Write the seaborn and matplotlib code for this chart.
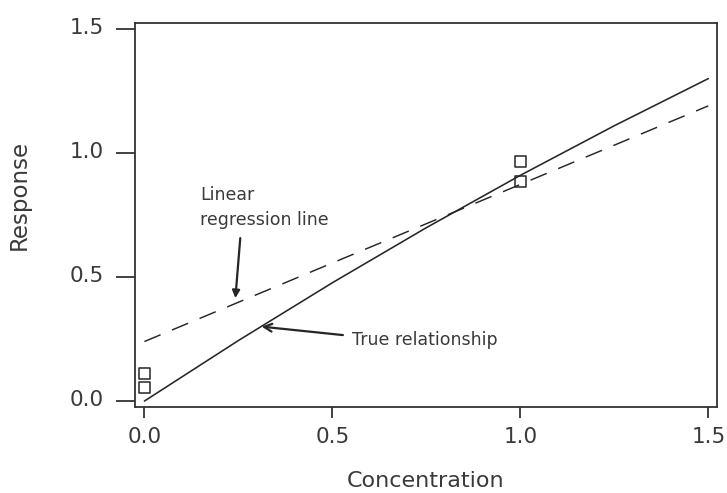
import numpy as np
import pandas as pd
import matplotlib
matplotlib.use("Agg")
import matplotlib.pyplot as plt
from matplotlib.transforms import ScaledTranslation
import seaborn as sns

# Observed responses (duplicate standards at two concentrations)
obs_conc = [0.0, 0.0, 1.0, 1.0]
obs_resp = [0.11, 0.055, 0.965, 0.885]

# True (slightly curved) concentration-response relationship
true_conc = [0.0, 0.25, 0.5, 0.75, 1.0, 1.25, 1.5]
true_resp = [0.0, 0.244, 0.477, 0.699, 0.91, 1.11, 1.30]

# Fitted straight line
fit_conc = [0.0, 1.5]
fit_resp = [0.24, 1.19]

tick_vals = [0.0, 0.5, 1.0, 1.5]
tick_labels = ["0.0", "0.5", "1.0", "1.5"]

sns.set_style("white")
plt.rcParams["font.family"] = ["DejaVu Sans"]

ink = "#262626"
txt = "#3a3a3a"

fig = plt.figure(figsize=(7.27, 4.93), dpi=100)
ax = fig.add_axes([0.1857, 0.1744, 0.8005, 0.7789])

obs = pd.DataFrame({"Concentration": obs_conc, "Response": obs_resp})
true = pd.DataFrame({"Concentration": true_conc, "Response": true_resp})
fit = pd.DataFrame({"Concentration": fit_conc, "Response": fit_resp})

sns.lineplot(data=true, x="Concentration", y="Response", ax=ax,
             color=ink, lw=1.15, sort=False)
sns.lineplot(data=fit, x="Concentration", y="Response", ax=ax,
             color=ink, lw=1.05, linestyle=(0, (12, 8.5)), sort=False)
sns.scatterplot(data=obs, x="Concentration", y="Response", ax=ax,
                marker="s", s=64, facecolor="none", edgecolor=ink,
                linewidth=1.1, zorder=5)

ax.set_xlim(-0.025, 1.523)
ax.set_ylim(-0.024, 1.524)
ax.set_xticks(tick_vals)
ax.set_xticklabels(tick_labels)
ax.set_yticks(tick_vals)
ax.set_yticklabels(tick_labels)

for sp in ax.spines.values():
    sp.set_visible(True)
    sp.set_color("#333333")
    sp.set_linewidth(1.3)

ax.tick_params(axis="x", bottom=True, direction="out", length=8, width=1.3,
               color="#333333", labelsize=15.5, labelcolor=txt, pad=6.5)
ax.tick_params(axis="y", left=True, direction="out", length=13.7, width=1.3,
               color="#333333", labelsize=15.5, labelcolor=txt, pad=8.5)
for lab in ax.get_yticklabels():
    lab.set_transform(lab.get_transform()
                      + ScaledTranslation(0, 3 / 100, fig.dpi_scale_trans))

ax.set_xlabel("Concentration", fontsize=16, color=txt)
ax.set_ylabel("Response", fontsize=16.5, color=txt)
ax.xaxis.set_label_coords(0.5, -0.166)
ax.yaxis.set_label_coords(-0.1787, 0.552)

# Annotations
ax.text(0.148, 0.810, "Linear", fontsize=12.5, color=txt, va="baseline")
ax.text(0.148, 0.710, "regression line", fontsize=12.5, color=txt,
        va="baseline")
ax.annotate("", xy=(0.242, 0.415), xytext=(0.255, 0.657),
            arrowprops=dict(arrowstyle="-|>", color=ink, lw=1.6,
                            mutation_scale=11, shrinkA=0, shrinkB=0))

ax.text(0.552, 0.226, "True relationship", fontsize=12.5, color=txt,
        va="baseline")
ax.annotate("", xy=(0.312, 0.300), xytext=(0.528, 0.266),
            arrowprops=dict(arrowstyle="->", color=ink, lw=1.6,
                            mutation_scale=14, shrinkA=0, shrinkB=0))

fig.savefig("out.png", dpi=100)
